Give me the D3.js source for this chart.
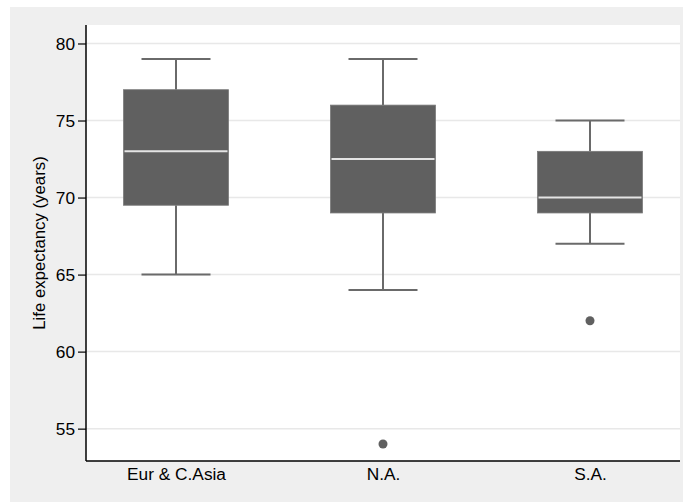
<!DOCTYPE html>
<html>
<head>
<meta charset="utf-8">
<script src="https://cdn.jsdelivr.net/npm/d3@7"></script>
<style>
  html, body { margin: 0; padding: 0; background: #ffffff; }
  svg { display: block; font-family: "Liberation Sans", Arial, Helvetica, sans-serif; }
</style>
</head>
<body>
<svg id="chart" width="683" height="502"></svg>
<script>
const categories = ["Eur & C.Asia", "N.A.", "S.A."];
const lowerWhisker = [65, 64, 67];
const q1 = [69.5, 69, 69];
const median = [73, 72.5, 70];
const q3 = [77, 76, 73];
const upperWhisker = [79, 79, 75];
const outliers = [[], [54], [62]];
const yTicks = [55, 60, 65, 70, 75, 80];
const yTitle = "Life expectancy (years)";

const svg = d3.select("#chart");
const W = 683, H = 502;
const plot = { left: 86, right: 680, top: 25, bottom: 461 };

svg.append("rect").attr("x", 10).attr("y", 7).attr("width", W - 10).attr("height", H - 7).attr("fill", "#efefef");
svg.append("rect").attr("x", plot.left).attr("y", plot.top)
  .attr("width", plot.right - plot.left).attr("height", plot.bottom - plot.top).attr("fill", "#ffffff");

const x = d3.scalePoint().domain(categories).range([plot.left, plot.right]).padding(0.4348);
const y = d3.scaleLinear().domain([52.9, 81.2]).range([plot.bottom, plot.top]);

svg.append("g").selectAll("line").data(yTicks).join("line")
  .attr("x1", plot.left).attr("x2", plot.right)
  .attr("y1", d => y(d)).attr("y2", d => y(d))
  .attr("stroke", "#e8e8e8").attr("stroke-width", 1.5);

const boxW = 105, capW = 69;
const g = svg.append("g");
categories.forEach((c, i) => {
  const cx = x(c);
  g.append("line").attr("x1", cx).attr("x2", cx).attr("y1", y(upperWhisker[i])).attr("y2", y(q3[i]))
    .attr("stroke", "#6a6a6a").attr("stroke-width", 2);
  g.append("line").attr("x1", cx).attr("x2", cx).attr("y1", y(q1[i])).attr("y2", y(lowerWhisker[i]))
    .attr("stroke", "#6a6a6a").attr("stroke-width", 2);
  g.append("line").attr("x1", cx - capW / 2).attr("x2", cx + capW / 2)
    .attr("y1", y(upperWhisker[i])).attr("y2", y(upperWhisker[i]))
    .attr("stroke", "#6a6a6a").attr("stroke-width", 2);
  g.append("line").attr("x1", cx - capW / 2).attr("x2", cx + capW / 2)
    .attr("y1", y(lowerWhisker[i])).attr("y2", y(lowerWhisker[i]))
    .attr("stroke", "#6a6a6a").attr("stroke-width", 2);
  g.append("rect").attr("x", cx - boxW / 2).attr("width", boxW)
    .attr("y", y(q3[i])).attr("height", y(q1[i]) - y(q3[i]))
    .attr("fill", "#606060").attr("stroke", "#7a7a7a").attr("stroke-width", 0.8);
  g.append("line").attr("x1", cx - boxW / 2 + 1).attr("x2", cx + boxW / 2 - 1)
    .attr("y1", y(median[i])).attr("y2", y(median[i]))
    .attr("stroke", "#e4e4e4").attr("stroke-width", 2);
  outliers[i].forEach(v => {
    g.append("circle").attr("cx", cx).attr("cy", y(v)).attr("r", 4.5).attr("fill", "#606060");
  });
});

const yAxis = svg.append("g").attr("transform", `translate(${plot.left},0)`)
  .call(d3.axisLeft(y).tickValues(yTicks).tickSize(8).tickPadding(3));
yAxis.select(".domain").remove();
yAxis.selectAll(".tick line").attr("stroke", "#000").attr("stroke-width", 1.2);
yAxis.selectAll(".tick text").attr("font-size", "17.3px").attr("fill", "#000")
  .attr("font-family", "'Liberation Sans', Arial, sans-serif");
svg.append("line").attr("x1", plot.left).attr("x2", plot.left).attr("y1", plot.top).attr("y2", plot.bottom)
  .attr("stroke", "#000").attr("stroke-width", 1.5);

const xAxis = svg.append("g").attr("transform", `translate(0,${plot.bottom})`)
  .call(d3.axisBottom(x).tickSize(0).tickPadding(7));
xAxis.select(".domain").remove();
xAxis.selectAll(".tick text").attr("font-size", "17.3px").attr("fill", "#000")
  .attr("font-family", "'Liberation Sans', Arial, sans-serif");
svg.append("line").attr("x1", plot.left).attr("x2", plot.right).attr("y1", plot.bottom).attr("y2", plot.bottom)
  .attr("stroke", "#000").attr("stroke-width", 1.5);

svg.append("text")
  .attr("transform", `translate(45,${(plot.top + plot.bottom) / 2}) rotate(-90)`)
  .attr("text-anchor", "middle")
  .attr("font-size", "16.8px").attr("fill", "#000")
  .text(yTitle);
</script>
</body>
</html>
